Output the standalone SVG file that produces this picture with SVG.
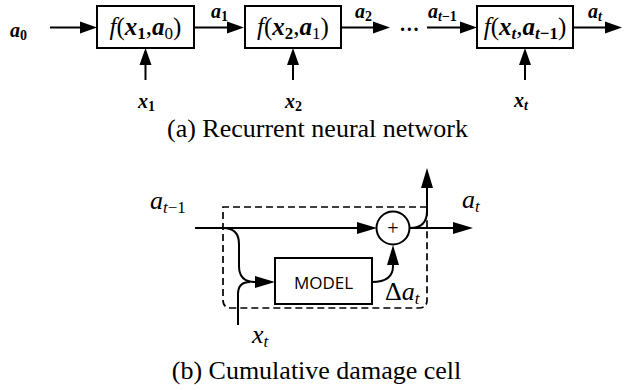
<svg xmlns="http://www.w3.org/2000/svg" width="634" height="390" viewBox="0 0 634 390">
<style>
.box{fill:#fff;stroke:#000;stroke-width:2}
.ln{fill:none;stroke:#000;stroke-width:2}
.top{marker-end:url(#ah)}
.bot{marker-end:url(#ah2)}
.dash{fill:none;stroke:#000;stroke-width:1.7;stroke-dasharray:7 4}
text{font-family:"Liberation Serif","Times New Roman",serif;fill:#000}
.lb{font-size:20px;font-weight:bold;font-style:italic}
.sb{font-size:14px}
.bx{font-size:25px}
.bi{font-weight:bold;font-style:italic}
.sub{font-size:17px}
.ml{font-size:26px;font-style:italic}
.ms{font-size:17px}
.cap{font-size:26px}
.sans{font-family:"Open Sans","Liberation Sans",sans-serif;font-size:17px}
</style>
<defs>
<marker id="ah" markerUnits="userSpaceOnUse" markerWidth="18" markerHeight="12" refX="2" refY="6" orient="auto" overflow="visible"><path d="M0,0 L17,6 L0,12 z" fill="#000"/></marker>
<marker id="ah2" markerUnits="userSpaceOnUse" markerWidth="21" markerHeight="12" refX="2" refY="6" orient="auto" overflow="visible"><path d="M0,0 L20,6 L0,12 z" fill="#000"/></marker>
</defs>

<g id="connectors">
<path class="ln top" d="M50,27.5 L82,27.5"/>
<path class="ln top" d="M194,27.5 L229,27.5"/>
<path class="ln top" d="M341,27.5 L375,27.5"/>
<path class="ln top" d="M427,27.5 L462,27.5"/>
<path class="ln top" d="M573,27.5 L607,27.5"/>
<path class="ln top" d="M145.5,80 L145.5,63"/>
<path class="ln top" d="M293,80 L293,63"/>
<path class="ln top" d="M525,80 L525,63"/>
<path class="ln bot" d="M195,228 L359,228"/>
<path class="ln bot" d="M410,228 L455,228"/>
<path class="ln bot" d="M410,228 Q427,228 427,211 L427,186"/>
<path class="ln bot" d="M223,228 Q239,228 239,244 L239,266 Q239,282 255,282 L257,282"/>
<path class="ln" d="M238,325 L238,294 Q238,282 250,282"/>
<path class="ln bot" d="M372,282 Q393,282 393,266 L393,263"/>
</g>

<g id="cell-boundary">
<path class="dash" d="M427,207 L223,207 L223,300 Q223,308 231,308 L419,308 Q427,308 427,300 Z"/>
</g>

<g id="f1">
<rect class="box" x="97" y="6" width="97" height="42"/>
<text class="bx" x="145.5" y="35" text-anchor="middle"><tspan font-style="italic">f</tspan>(<tspan class="bi">x</tspan><tspan class="sub" font-weight="bold" dy="4">1</tspan><tspan dy="-4">,</tspan><tspan class="bi">a</tspan><tspan class="sub" dy="4">0</tspan><tspan dy="-4">)</tspan></text>
</g>
<g id="f2">
<rect class="box" x="245" y="6" width="96" height="42"/>
<text class="bx" x="293" y="35" text-anchor="middle"><tspan font-style="italic">f</tspan>(<tspan class="bi">x</tspan><tspan class="sub" font-weight="bold" dy="4">2</tspan><tspan dy="-4">,</tspan><tspan class="bi">a</tspan><tspan class="sub" dy="4">1</tspan><tspan dy="-4">)</tspan></text>
</g>
<g id="ft">
<rect class="box" x="477" y="6" width="96" height="42"/>
<text class="bx" x="525" y="35" text-anchor="middle"><tspan font-style="italic">f</tspan>(<tspan class="bi">x</tspan><tspan class="sub bi" dy="4">t</tspan><tspan dy="-4">,</tspan><tspan class="bi">a</tspan><tspan class="sub" font-weight="bold" dy="4"><tspan font-style="italic">t</tspan>−1</tspan><tspan dy="-4">)</tspan></text>
</g>

<g id="top-labels">
<text class="lb" x="10" y="37">a<tspan class="sb" font-style="normal" dy="3">0</tspan></text>
<text class="lb" x="211" y="18">a<tspan class="sb" font-style="normal" dy="3">1</tspan></text>
<text class="lb" x="355" y="18">a<tspan class="sb" font-style="normal" dy="3">2</tspan></text>
<text class="lb" x="428" y="18">a<tspan class="sb" dy="3">t<tspan font-style="normal">−1</tspan></tspan></text>
<text class="lb" x="588" y="18">a<tspan class="sb" dy="3">t</tspan></text>
<text class="lb" x="138" y="108">x<tspan class="sb" font-style="normal" dy="3">1</tspan></text>
<text class="lb" x="285" y="108">x<tspan class="sb" font-style="normal" dy="3">2</tspan></text>
<text class="lb" x="514" y="107">x<tspan class="sb" dy="3">t</tspan></text>
<text class="lb" x="400" y="31" font-style="normal" font-size="12">…</text>
</g>

<g id="sum">
<circle cx="393" cy="228" r="16.5" fill="#fff" stroke="#000" stroke-width="2"/>
<text x="393" y="235" text-anchor="middle" font-size="20">+</text>
</g>

<g id="model">
<rect class="box" x="275" y="258" width="97" height="46"/>
<text class="sans" x="323.5" y="288.5" text-anchor="middle">MODEL</text>
</g>

<g id="bottom-labels">
<text class="ml" x="150" y="209">a<tspan class="ms" dy="4">t<tspan font-style="normal">−1</tspan></tspan></text>
<text class="ml" x="462" y="208">a<tspan class="ms" dy="4">t</tspan></text>
<text class="ml" x="385" y="300"><tspan font-style="normal">Δ</tspan>a<tspan class="ms" dy="4">t</tspan></text>
<text class="ml" x="252" y="343">x<tspan class="ms" dy="4">t</tspan></text>
</g>

<g id="captions">
<text class="cap" x="317.5" y="137" text-anchor="middle">(a) Recurrent neural network</text>
<text class="cap" x="316.5" y="379" text-anchor="middle">(b) Cumulative damage cell</text>
</g>
</svg>
